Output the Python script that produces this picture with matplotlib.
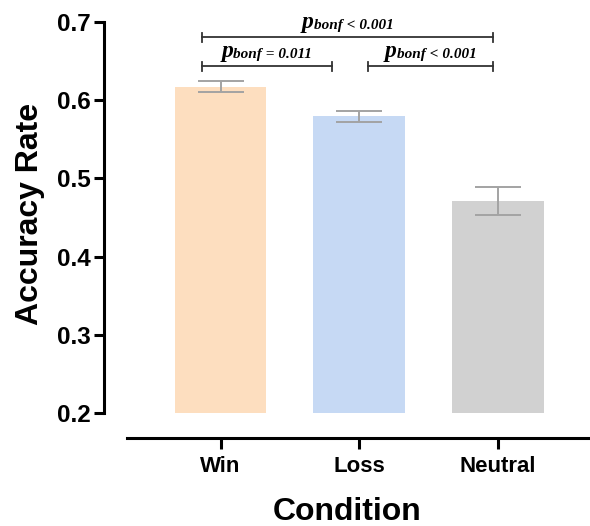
import numpy as np
import matplotlib
matplotlib.use("Agg")
import matplotlib.pyplot as plt
from matplotlib.transforms import offset_copy

# data
conditions = ["Win", "Loss", "Neutral"]
means = [0.617, 0.579, 0.471]
sems = [0.0067, 0.0070, 0.0177]
bar_colors = ["#FDDEBF", "#C6D9F4", "#D1D1D1"]

# significance brackets: (x_left, x_right, y, label)
bracket_x0 = [-0.135, -0.135, 1.06]
bracket_x1 = [1.966, 0.80, 1.966]
bracket_y = [0.680, 0.643, 0.643]
bracket_labels = ["< 0.001", "= 0.011", "< 0.001"]

plt.rcParams["font.family"] = ["Liberation Sans", "DejaVu Sans"]

fig = plt.figure(figsize=(5.9, 5.26), dpi=100)
ax = fig.add_axes([104 / 590, 1 - 413.3 / 526, 486 / 590, 391.6 / 526])

x = np.arange(len(conditions))
ax.bar(x, means, width=0.66, color=bar_colors, edgecolor="none", zorder=2)
ax.errorbar(x, means, yerr=sems, fmt="none", ecolor="#A3A3A3",
            elinewidth=1.4, capsize=16.5, capthick=1.4, zorder=3)

ax.set_xlim(-0.84, 2.663)
ax.set_ylim(0.2, 0.7)
ax.set_yticks([0.2, 0.3, 0.4, 0.5, 0.6, 0.7])
ax.set_xticks(x)
ax.set_xticklabels(conditions)

for s in ["top", "right"]:
    ax.spines[s].set_visible(False)
ax.spines["left"].set_linewidth(2.2)
ax.spines["bottom"].set_linewidth(2.2)
ax.spines["bottom"].set_position(("outward", 17.6))
ax.spines["bottom"].set_bounds(-0.674, 2.663)

ax.tick_params(axis="y", length=7.2, width=2.2, pad=2, labelsize=17.5)
ax.tick_params(axis="x", length=8, width=2.2, pad=5, labelsize=16)
for lab in ax.get_xticklabels() + ax.get_yticklabels():
    lab.set_fontweight("bold")

ax.set_ylabel("Accuracy Rate", fontsize=23, fontweight="bold")
ax.set_xlabel("Condition", fontsize=23, fontweight="bold")
ax.yaxis.set_label_coords(-0.152, 0.51)
ax.xaxis.set_label_coords(0.5, -0.252)
ax.yaxis.label.set_va("center")
ax.xaxis.label.set_va("center")

# brackets
tick_h = 0.006
serif = dict(family="Liberation Serif", style="italic", weight="bold", color="black")
fig.canvas.draw()
renderer = fig.canvas.get_renderer()
for x0, x1, y, lab in zip(bracket_x0, bracket_x1, bracket_y, bracket_labels):
    ax.plot([x0, x1], [y, y], color="#333333", lw=1.3, clip_on=False, zorder=4)
    ax.plot([x0, x0], [y - tick_h, y + tick_h], color="#333333", lw=1.3, clip_on=False)
    ax.plot([x1, x1], [y - tick_h, y + tick_h], color="#333333", lw=1.3, clip_on=False)

    xc = (x0 + x1) / 2
    yt = y + 0.0125
    p = ax.text(xc, yt, "p", fontsize=17, ha="left", va="baseline", clip_on=False, **serif)
    sub = ax.text(xc, yt, "bonf " + lab, fontsize=11, ha="left", va="baseline",
                  clip_on=False, **serif)
    wp = p.get_window_extent(renderer).width
    ws = sub.get_window_extent(renderer).width
    total = wp + ws
    p.set_transform(offset_copy(ax.transData, fig=fig, x=-total / 2, y=0, units="dots"))
    sub.set_transform(offset_copy(ax.transData, fig=fig, x=-total / 2 + wp, y=-1.5, units="dots"))

fig.savefig("out.png", dpi=100)
